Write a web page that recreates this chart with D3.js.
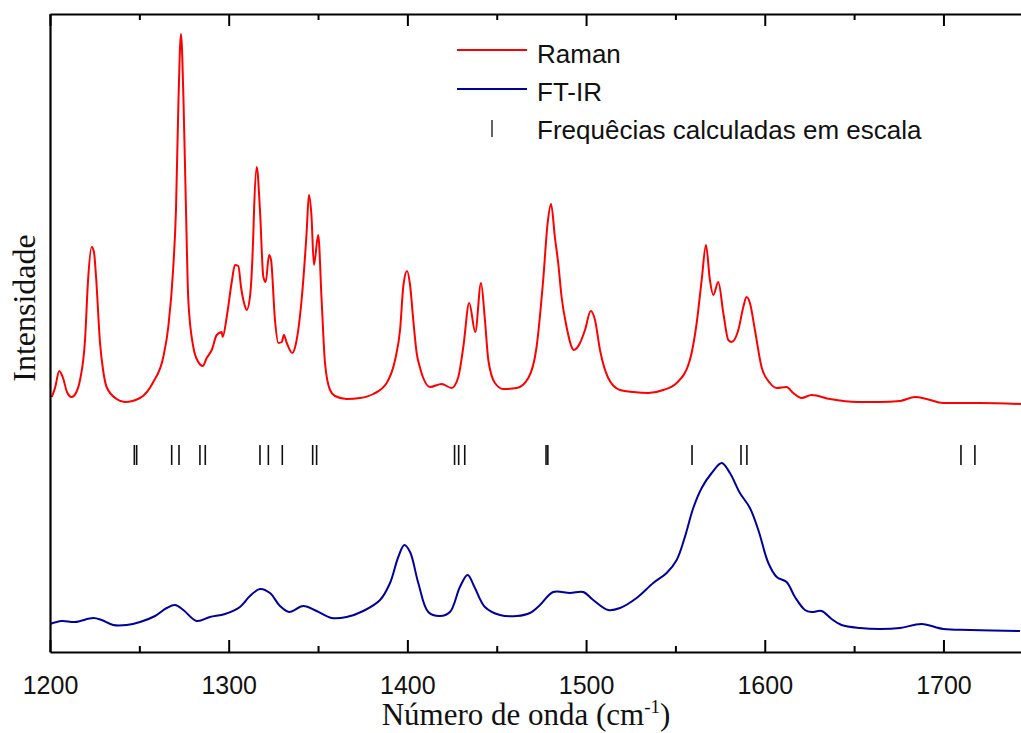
<!DOCTYPE html>
<html>
<head>
<meta charset="utf-8">
<script src="https://cdn.jsdelivr.net/npm/d3@7"></script>
<style>
  html, body { margin: 0; padding: 0; background: #fff; }
  svg { display: block; }
</style>
</head>
<body>
<svg id="chart" width="1021" height="733"></svg>
<script>
// Raman spectrum (cm-1, intensity a.u., stacked above the IR trace)
const ramanWavenumber = [1201.0,1202.8,1205.2,1207.3,1209.5,1212.1,1214.5,1216.8,1219.6,1221.3,1223.3,1224.6,1225.7,1228.0,1229.7,1231.7,1237.3,1241.9,1250.4,1257.8,1263.4,1266.2,1269.0,1270.5,1271.9,1273.3,1274.7,1276.1,1277.4,1280.2,1283.0,1285.5,1287.7,1290.5,1293.3,1296.1,1296.6,1298.9,1301.7,1303.5,1305.4,1306.9,1308.6,1310.1,1311.9,1313.8,1314.2,1315.7,1317.5,1319.4,1320.7,1322.6,1323.7,1325.9,1327.8,1329.7,1330.9,1332.5,1335.6,1337.7,1340.8,1343.6,1344.9,1346.3,1347.7,1350.1,1352.0,1353.9,1356.7,1359.5,1366.0,1373.5,1380.9,1388.4,1393.1,1395.9,1397.8,1399.8,1401.5,1403.3,1405.2,1407.1,1408.9,1412.6,1419.2,1424.8,1428.5,1431.3,1434.6,1438.0,1441.2,1443.4,1445.3,1449.0,1453.7,1461.2,1467.7,1472.3,1476.0,1478.5,1480.4,1482.6,1484.4,1486.3,1489.1,1493.2,1496.6,1499.4,1502.6,1505.0,1507.8,1512.4,1519.0,1526.4,1534.8,1543.2,1550.7,1558.1,1561.9,1564.7,1567.1,1569.3,1571.2,1574.0,1576.8,1579.6,1581.5,1585.2,1588.0,1589.8,1591.7,1594.5,1598.2,1602.9,1606.6,1612.2,1615.9,1620.6,1626.2,1636.5,1651.4,1664.5,1675.7,1684.1,1690.6,1699.9,1720.4,1743.4];
const ramanIntensity = [255,264,281,274,260,255,259,272,312,372,405,400,377,309,282,265,253,250,254,270,295,325,385,442,552,618,552,442,352,305,290,286,294,302,317,320,315,335,370,387,386,365,349,342,355,419,442,485,442,375,370,397,392,332,309,310,317,309,299,309,352,419,457,437,387,417,352,289,262,256,253,254,258,269,292,322,367,381,367,332,299,284,274,265,268,264,275,305,349,320,369,332,292,269,263,264,274,305,372,429,448,414,389,355,325,302,309,322,341,332,302,274,262,260,259,262,269,292,329,372,407,372,357,370,339,312,310,322,345,355,349,322,285,269,264,265,259,254,257,253,250,250,251,255,253,249,249,248];

// FT-IR spectrum
const irWavenumber = [1200.0,1206.5,1214.0,1224.2,1228.9,1235.4,1242.9,1250.4,1258.8,1265.3,1270.0,1274.6,1282.1,1289.5,1297.9,1306.3,1311.9,1317.5,1323.1,1328.7,1333.9,1341.7,1349.2,1357.6,1366.0,1375.3,1384.7,1390.3,1394.9,1398.3,1401.5,1406.1,1411.7,1418.2,1423.8,1429.4,1433.7,1437.8,1443.4,1451.8,1461.2,1468.6,1474.2,1481.6,1491.0,1498.4,1504.0,1512.4,1519.0,1528.3,1537.6,1545.1,1550.7,1555.3,1560.0,1564.7,1570.3,1575.9,1580.5,1586.1,1591.7,1596.4,1602.0,1606.7,1612.2,1616.9,1622.5,1626.2,1631.8,1637.4,1643.0,1653.3,1664.5,1675.7,1687.8,1699.9,1714.8,1742.8];
const irIntensity = [28,31,30,34,32,27,27,30,36,44,47,42,31,35,38,45,56,63,59,46,40,46,41,34,35,41,52,69,95,107,100,69,40,36,40,65,77,64,45,37,36,39,47,60,59,60,52,42,44,54,69,79,92,115,144,164,179,189,179,159,144,122,89,75,70,55,42,40,41,33,27,24,23,24,28,23,22,21];

// Scaled calculated frequencies (cm-1)
const calcFrequencies = [1247.2,1248.5,1268.1,1272.2,1283.9,1286.9,1317.5,1322.2,1330.0,1347.0,1349.2,1426.4,1428.7,1432.1,1477.6,1478.6,1559.3,1586.7,1590.0,1709.8,1717.6];

// Axis ticks
const majorTicks = [1200, 1300, 1400, 1500, 1600, 1700];
const minorTicks = [1250, 1350, 1450, 1550, 1650];

const legendLabels = ["Raman", "FT-IR", "Frequêcias calculadas em escala"];

const svg = d3.select("#chart");
const plotLeft = 50, plotRight = 1021, plotTop = 14, plotBottom = 652;

const x = d3.scaleLinear().domain([1200, 1743.4]).range([plotLeft, plotRight]);
const y = d3.scaleLinear().domain([0, 638]).range([plotBottom, plotTop]);

const sansFont = "'Liberation Sans', Arial, sans-serif";
const serifFont = "'Liberation Serif', 'Times New Roman', serif";

// Spectra
const ramanLine = d3.line()
  .x(d => x(d[0]))
  .y(d => y(d[1]))
  .curve(d3.curveMonotoneX);

const irLine = d3.line()
  .x(d => x(d[0]))
  .y(d => y(d[1]))
  .curve(d3.curveCatmullRom.alpha(0.5));

svg.append("clipPath").attr("id", "plotClip")
  .append("rect").attr("x", plotLeft).attr("y", plotTop)
  .attr("width", plotRight - plotLeft).attr("height", plotBottom - plotTop);

const plot = svg.append("g").attr("clip-path", "url(#plotClip)");

plot.append("path")
  .datum(irWavenumber.map((w, i) => [w, irIntensity[i]]))
  .attr("fill", "none")
  .attr("stroke", "#00009c")
  .attr("stroke-width", 2)
  .attr("stroke-linejoin", "round")
  .attr("d", irLine);

plot.append("path")
  .datum(ramanWavenumber.map((w, i) => [w, ramanIntensity[i]]))
  .attr("fill", "none")
  .attr("stroke", "#ff0000")
  .attr("stroke-width", 2)
  .attr("stroke-linejoin", "round")
  .attr("d", ramanLine);

// Calculated frequency markers
const markTop = 445, markBottom = 465;
plot.append("g").selectAll("line")
  .data(calcFrequencies)
  .join("line")
  .attr("x1", d => x(d)).attr("x2", d => x(d))
  .attr("y1", markTop).attr("y2", markBottom)
  .attr("stroke", "#111")
  .attr("stroke-width", 1.6);

// Bottom axis: major ticks with labels, minor ticks without
const xMajor = d3.axisBottom(x).tickValues(majorTicks).tickFormat(d3.format("d"))
  .tickSizeInner(-12).tickSizeOuter(0).tickPadding(24);
const xMinor = d3.axisBottom(x).tickValues(minorTicks).tickFormat("")
  .tickSizeInner(-6).tickSizeOuter(0);

const gx = svg.append("g").attr("transform", `translate(0,${plotBottom})`).call(xMajor);
svg.append("g").attr("transform", `translate(0,${plotBottom})`).call(xMinor)
  .select(".domain").remove();
gx.select(".domain").attr("stroke-width", 2.2);
gx.selectAll(".tick text")
  .attr("font-family", sansFont)
  .attr("font-size", 25)
  .attr("fill", "#111");

// Top border with mirrored ticks
const tMajor = d3.axisTop(x).tickValues(majorTicks).tickFormat("")
  .tickSizeInner(-12).tickSizeOuter(0);
const tMinor = d3.axisTop(x).tickValues(minorTicks).tickFormat("")
  .tickSizeInner(-6).tickSizeOuter(0);
const gt = svg.append("g").attr("transform", `translate(0,${plotTop})`).call(tMajor);
gt.select(".domain").attr("stroke-width", 2.2);
svg.append("g").attr("transform", `translate(0,${plotTop})`).call(tMinor).select(".domain").remove();

// Left axis (no ticks)
const yAxis = d3.axisLeft(y).tickValues([]).tickSizeOuter(0);
svg.append("g").attr("transform", `translate(${plotLeft},0)`).call(yAxis)
  .select(".domain").attr("stroke-width", 2.2);

svg.selectAll(".tick line").attr("stroke-width", 2);

// Axis titles
const xTitle = svg.append("text")
  .attr("x", 526).attr("y", 725)
  .attr("text-anchor", "middle")
  .attr("font-family", serifFont)
  .attr("font-size", 31)
  .attr("fill", "#111");
xTitle.append("tspan").text("Número de onda (cm");
xTitle.append("tspan").attr("font-size", 19).attr("dy", -12).text("-1");
xTitle.append("tspan").attr("dy", 12).text(")");

svg.append("text")
  .attr("transform", "translate(35,308) rotate(-90)")
  .attr("text-anchor", "middle")
  .attr("font-family", serifFont)
  .attr("font-size", 32)
  .attr("fill", "#111")
  .text("Intensidade");

// Legend
const legend = svg.append("g").attr("font-family", sansFont).attr("font-size", 26).attr("fill", "#111");
legend.append("line").attr("x1", 457).attr("x2", 527).attr("y1", 50).attr("y2", 50)
  .attr("stroke", "#ff0000").attr("stroke-width", 2);
legend.append("text").attr("x", 537).attr("y", 62.5).text(legendLabels[0]);
legend.append("line").attr("x1", 457).attr("x2", 527).attr("y1", 89).attr("y2", 89)
  .attr("stroke", "#00009c").attr("stroke-width", 2);
legend.append("text").attr("x", 537).attr("y", 101).text(legendLabels[1]);
legend.append("line").attr("x1", 492).attr("x2", 492).attr("y1", 120).attr("y2", 137)
  .attr("stroke", "#111").attr("stroke-width", 1.3);
legend.append("text").attr("x", 537).attr("y", 139).text(legendLabels[2]);
</script>
</body>
</html>
